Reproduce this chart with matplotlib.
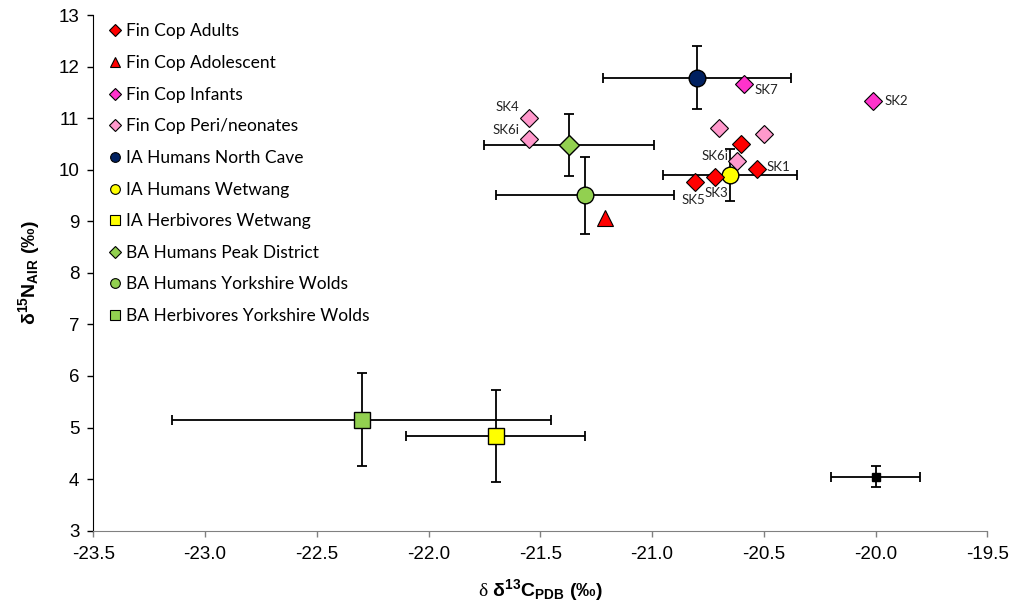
import numpy as np
import matplotlib
matplotlib.use("Agg")
import matplotlib.pyplot as plt
from matplotlib.lines import Line2D

# ==================================================
# Data
# ==================================================

adults_x = [-20.60, -20.53, -20.72, -20.81]
adults_y = [10.50, 10.02, 9.86, 9.76]
adults_lab = ["", "SK1", "SK3", "SK5"]

adol_x = [-21.21]
adol_y = [9.06]

infants_x = [-20.59, -20.01]
infants_y = [11.66, 11.34]
infants_lab = ["SK7", "SK2"]

peri_x = [-21.55, -21.55, -20.70, -20.50, -20.62]
peri_y = [11.00, 10.60, 10.80, 10.70, 10.16]
peri_lab = ["SK4", "SK6i", "", "", "SK6ii"]

# group means with errors: x, y, xerr, yerr
nc_mean = (-20.80, 11.78, 0.42, 0.61)       # IA Humans North Cave
ww_mean = (-20.65, 9.90, 0.30, 0.50)        # IA Humans Wetwang
wwh_mean = (-21.70, 4.84, 0.40, 0.89)       # IA Herbivores Wetwang
pd_mean = (-21.37, 10.48, 0.38, 0.60)       # BA Humans Peak District
yw_mean = (-21.30, 9.50, 0.40, 0.74)        # BA Humans Yorkshire Wolds
ywh_mean = (-22.30, 5.15, 0.85, 0.90)       # BA Herbivores Yorkshire Wolds
ref_mean = (-20.00, 4.05, 0.20, 0.20)       # unlabelled reference point

# ==================================================
# Style
# ==================================================

RED = "#FF0000"
MAGENTA = "#FF33CC"
PINK = "#FF99CC"
NAVY = "#002060"
YELLOW = "#FFFF00"
GREEN = "#92D050"

plt.rcParams["font.family"] = ["Liberation Sans", "DejaVu Sans"]
plt.rcParams["mathtext.fontset"] = "custom"
plt.rcParams["mathtext.rm"] = "Liberation Sans"
plt.rcParams["mathtext.bf"] = "Liberation Sans:bold"
plt.rcParams["mathtext.it"] = "Liberation Serif"

fig = plt.figure(figsize=(10.12, 6.05), dpi=100)
ax = fig.add_axes([0.0922, 0.1228, 0.8834, 0.8524])


def draw_mean(m, marker, color, ms):
    x, y, xe, ye = m
    ax.errorbar([x], [y], xerr=[xe], yerr=[ye], fmt="none", ecolor="black",
                elinewidth=1.3, capsize=3.5, capthick=1.3, zorder=2)
    ax.plot([x], [y], marker=marker, color=color, markeredgecolor="black",
            markeredgewidth=1.0, ms=ms, linestyle="none", zorder=4)


draw_mean(nc_mean, "o", NAVY, 12)
draw_mean(ww_mean, "o", YELLOW, 12)
draw_mean(wwh_mean, "s", YELLOW, 11)
draw_mean(pd_mean, "D", GREEN, 10)
draw_mean(yw_mean, "o", GREEN, 12)
draw_mean(ywh_mean, "s", GREEN, 11)
draw_mean(ref_mean, "s", "black", 6)

ax.plot(peri_x, peri_y, "D", color=PINK, mec="black", mew=0.8, ms=9, zorder=5)
ax.plot(infants_x, infants_y, "D", color=MAGENTA, mec="black", mew=0.8, ms=9, zorder=5)
ax.plot(adults_x, adults_y, "D", color=RED, mec="black", mew=0.8, ms=9, zorder=5)
ax.plot(adol_x, adol_y, "^", color=RED, mec="black", mew=0.8, ms=11, zorder=5)

# sample labels
lab_font = dict(fontsize=9.5, family=["Lato", "DejaVu Sans"], color="#222222")
offsets = {
    "SK1": (7, 1, "left", "center"),
    "SK2": (8, 0, "left", "center"),
    "SK3": (1, -11.5, "center", "center"),
    "SK5": (-1, -13, "center", "center"),
    "SK7": (8, -4, "left", "center"),
    "SK4": (-7, 8, "right", "center"),
    "SK6i": (-7, 6, "right", "center"),
    "SK6ii": (-4, 4, "right", "center"),
}
for xs, ys, labs in [(adults_x, adults_y, adults_lab),
                     (infants_x, infants_y, infants_lab),
                     (peri_x, peri_y, peri_lab)]:
    for x, y, lab in zip(xs, ys, labs):
        if not lab:
            continue
        dx, dy, ha, va = offsets[lab]
        ax.annotate(lab, (x, y), xytext=(dx, dy), textcoords="offset points",
                    ha=ha, va=va, zorder=6, **lab_font)

# axes
ax.set_xlim(-23.5, -19.5)
ax.set_ylim(3, 13)
ax.set_xticks(np.arange(-23.5, -19.4, 0.5))
ax.set_xticklabels([f"{v:.1f}" for v in np.arange(-23.5, -19.4, 0.5)])
ax.set_yticks(np.arange(3, 14, 1))
ax.tick_params(axis="both", direction="out", length=4, width=1, labelsize=13.5)
ax.tick_params(axis="x", pad=7, color="#808080")
ax.tick_params(axis="y", pad=6)
ax.spines["top"].set_visible(False)
ax.spines["right"].set_visible(False)
ax.spines["bottom"].set_color("#808080")
ax.spines["left"].set_color("black")

ax.set_ylabel(r"$\mathbf{\delta^{15}N_{AIR}}$ (‰)", fontsize=14, fontweight="bold",
              labelpad=12)
ax.set_xlabel(r"$\mathit{\delta}$ $\mathbf{\delta^{13}C_{PDB}}$ (‰)", fontsize=14,
              fontweight="bold", labelpad=10)

# legend
def h(marker, color, ms=7):
    return Line2D([], [], marker=marker, color=color, mec="black", mew=0.8,
                  ms=ms, linestyle="none")

handles = [h("D", RED, 6), h("^", RED, 7), h("D", MAGENTA, 6), h("D", PINK, 6),
           h("o", NAVY), h("o", YELLOW), h("s", YELLOW), h("D", GREEN, 6),
           h("o", GREEN), h("s", GREEN)]
labels = ["Fin Cop Adults", "Fin Cop Adolescent", "Fin Cop Infants",
          "Fin Cop Peri/neonates", "IA Humans North Cave", "IA Humans Wetwang",
          "IA Herbivores Wetwang", "BA Humans Peak District",
          "BA Humans Yorkshire Wolds", "BA Herbivores Yorkshire Wolds"]
fig.legend(handles, labels, loc="upper left", bbox_to_anchor=(0.093, 0.987),
           frameon=False, handlelength=0.6, handletextpad=0.35,
           labelspacing=0.9, prop={"family": ["Lato", "DejaVu Sans"], "size": 12.5})

fig.savefig("out.png", dpi=100)
